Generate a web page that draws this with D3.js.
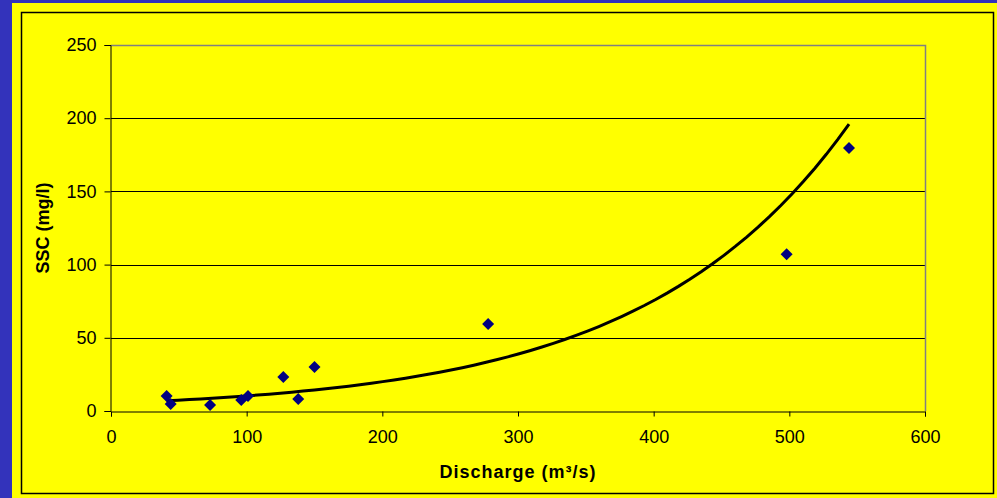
<!DOCTYPE html>
<html>
<head>
<meta charset="utf-8">
<script src="https://cdn.jsdelivr.net/npm/d3@7"></script>
<style>
  body { margin: 0; background: #3333bb; }
  svg { display: block; }
  text { font-family: "Liberation Sans", Arial, sans-serif; }
</style>
</head>
<body>
<div id="chart"></div>
<script>
// discharge (m3/s) vs suspended sediment concentration (mg/l)
let discharge = [41, 44, 73, 96, 101, 127, 138, 150, 278, 498, 544];
let ssc = [10.2, 4.8, 4.1, 7.5, 10.2, 23.2, 8.2, 30, 59.4, 107, 179.7];
let xTicks = [0, 100, 200, 300, 400, 500, 600];
let yTicks = [0, 50, 100, 150, 200, 250];
let xTitle = "Discharge (m\u00b3/s)";
let yTitle = "SSC (mg/l)";

function init() {
    let width = 997;
    let height = 498;
    let plot = {left: 111, top: 45, right: 925, bottom: 411};

    let svg = d3.select("#chart").append("svg")
            .attr("width", width)
            .attr("height", height);

    // blue frame + yellow chart area
    svg.append("rect")
        .attr("width", width).attr("height", height)
        .attr("fill", "#3333bb");
    svg.append("rect")
        .attr("x", 12).attr("y", 3)
        .attr("width", width - 12).attr("height", height - 3)
        .attr("fill", "#ffff00");
    svg.append("rect")
        .attr("x", 21.5).attr("y", 12.5)
        .attr("width", 972).attr("height", 481)
        .attr("fill", "none")
        .attr("stroke", "#000")
        .attr("stroke-width", 1.5);

    let x = d3.scaleLinear().domain([0, 600]).range([plot.left, plot.right]);
    let y = d3.scaleLinear().domain([0, 250]).range([plot.bottom, plot.top]);

    // gridlines
    svg.selectAll(".grid")
        .data(yTicks.filter(d => d > 0 && d < 250))
        .join("line")
        .attr("class", "grid")
        .attr("x1", plot.left).attr("x2", plot.right)
        .attr("y1", d => Math.round(y(d)) + 0.5)
        .attr("y2", d => Math.round(y(d)) + 0.5)
        .attr("stroke", "#000");

    // plot area border (top / right, grey)
    svg.append("path")
        .attr("d", `M${plot.left},${plot.top + 0.5}H${plot.right + 0.5}V${plot.bottom}`)
        .attr("fill", "none")
        .attr("stroke", "#808080")
        .attr("stroke-width", 1.5);

    // axes
    let xAxis = d3.axisBottom(x).tickValues(xTicks).tickSize(5).tickPadding(14);
    let yAxis = d3.axisLeft(y).tickValues(yTicks).tickSize(6).tickPadding(8);

    let gx = svg.append("g")
        .attr("transform", `translate(0,${plot.bottom + 0.5})`)
        .call(xAxis);
    let gy = svg.append("g")
        .attr("transform", `translate(${plot.left - 0.5},0)`)
        .call(yAxis);

    [gx, gy].forEach(g => {
        g.select(".domain").attr("stroke", "#000");
        g.selectAll(".tick line").attr("stroke", "#000");
        g.selectAll("text")
            .attr("font-size", 18)
            .attr("font-family", "Liberation Sans, Arial, sans-serif")
            .attr("fill", "#000");
    });

    // axis titles
    svg.append("text")
        .attr("x", (plot.left + plot.right) / 2)
        .attr("y", 478)
        .attr("text-anchor", "middle")
        .attr("font-size", 18)
        .attr("font-weight", "bold")
        .attr("letter-spacing", 1)
        .text(xTitle);

    svg.append("text")
        .attr("transform", `translate(49,${(plot.top + plot.bottom) / 2}) rotate(-90)`)
        .attr("text-anchor", "middle")
        .attr("font-size", 18)
        .attr("font-weight", "bold")
        .text(yTitle);

    // exponential trendline (least squares on ln y, like Excel)
    let n = discharge.length;
    let mx = d3.mean(discharge);
    let ly = ssc.map(v => Math.log(v));
    let my = d3.mean(ly);
    let sxy = 0, sxx = 0;
    for (var i = 0; i < n; i++) {
        sxy += (discharge[i] - mx) * (ly[i] - my);
        sxx += (discharge[i] - mx) * (discharge[i] - mx);
    }
    let b = sxy / sxx;
    let a = Math.exp(my - b * mx);
    let [x0, x1] = d3.extent(discharge);
    let trend = d3.range(0, 61).map(k => {
        let xv = x0 + (x1 - x0) * k / 60;
        return {x: xv, y: a * Math.exp(b * xv)};
    });

    let line = d3.line()
        .x(d => x(d.x))
        .y(d => y(d.y));

    svg.append("path")
        .datum(trend)
        .attr("d", line)
        .attr("fill", "none")
        .attr("stroke", "#000")
        .attr("stroke-width", 3);

    // points
    let points = discharge.map((d, i) => ({x: d, y: ssc[i]}));
    svg.selectAll(".pt")
        .data(points)
        .join("path")
        .attr("class", "pt")
        .attr("d", d3.symbol(d3.symbolSquare, 72))
        .attr("transform", d => `translate(${x(d.x)},${y(d.y)}) rotate(45)`)
        .attr("fill", "#000080");
}
window.onload = init;
</script>
</body>
</html>
